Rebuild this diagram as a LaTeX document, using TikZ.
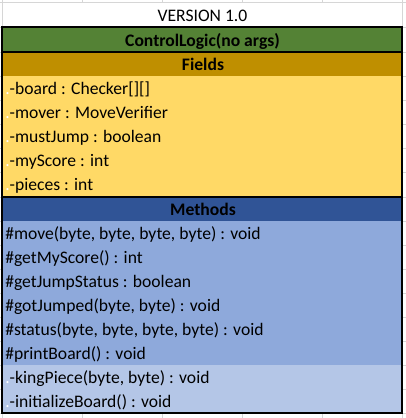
\documentclass[tikz,border=0pt]{standalone}
\usepackage{fontspec}
\setmainfont{Carlito}

\definecolor{gridgray}{HTML}{D6D6D6}
\definecolor{clsgreen}{HTML}{548235}
\definecolor{fldgold}{HTML}{BF8F00}
\definecolor{fldyellow}{HTML}{FFD966}
\definecolor{mthnavy}{HTML}{305496}
\definecolor{mthblue}{HTML}{8EA9DB}
\definecolor{mthpale}{HTML}{B4C6E7}

\newcommand{\wdot}{\textcolor{white}{.}}
\newcommand{\cellfont}{\fontsize{13.2}{15}\selectfont}

\tikzset{
  gridln/.style={draw=gridgray, line width=0.75pt},
  boxln/.style={draw=black, line width=1.6pt},
  rowtxt/.style={anchor=base west, inner sep=0pt, font=\cellfont},
  hdrtxt/.style={anchor=base, inner sep=0pt, font=\cellfont\bfseries},
}

\begin{document}
\begin{tikzpicture}[x=0.75pt, y=-0.75pt]

\useasboundingbox (0,0) rectangle (406,418);
\fill [white] (0,0) rectangle (406,418);

\foreach \y in {2.5,27,52,76,100,124,148,172,197,221,245,269,293,317,341,365,389,413}
  \draw [gridln] (0,\y) -- (406,\y);
\foreach \x in {82,162,242,322}
  \draw [gridln] (\x,0) -- (\x,2.5) (\x,27) -- (\x,418);
\draw [gridln] (2.5,0) -- (2.5,418) (402,0) -- (402,418);

\fill [clsgreen] (2,27) rectangle (402,52);
\fill [fldgold] (2,52) rectangle (402,76);
\fill [fldyellow] (2,76) rectangle (402,197);
\fill [mthnavy] (2,197) rectangle (402,221);
\fill [mthblue] (2,221) rectangle (402,365);
\fill [mthpale] (2,365) rectangle (402,413);

\node [anchor=base, inner sep=0pt, font=\cellfont] (version) at (202.5,21.5) {VERSION 1.0};
\node [hdrtxt] (cls) at (202.5,46) {ControlLogic(no args)};
\node [hdrtxt] (fields) at (203,70.5) {Fields};
\node [hdrtxt] (methods) at (203,215) {Methods};

\foreach \txt [count=\i] in {{board : Checker[][]}, {mover : MoveVerifier},
    {mustJump : boolean}, {myScore : int}, {pieces : int}}
  \node [rowtxt] (fld\i) at (5,{76+24*\i-5.5}) {\wdot-\txt};

\foreach \txt [count=\i] in {{move(byte, byte, byte, byte) : void}, {getMyScore() : int},
    {getJumpStatus : boolean}, {gotJumped(byte, byte) : void},
    {status(byte, byte, byte, byte) : void}, {printBoard() : void}}
  \node [rowtxt] (mth\i) at (5,{221+24*\i-6}) {\#\txt};

\node [rowtxt] (mth7) at (5,383) {\wdot-kingPiece(byte, byte) : void};
\node [rowtxt] (mth8) at (5,407) {\wdot-initializeBoard() : void};

\draw [boxln] (2,27) rectangle (401.7,412.7);
\draw [boxln] (2,52) -- (401.7,52);
\draw [boxln] (2,197) -- (401.7,197);

\end{tikzpicture}
\end{document}
